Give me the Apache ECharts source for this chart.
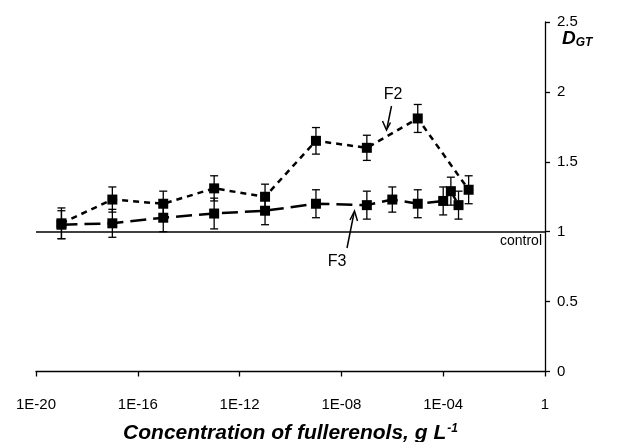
<!DOCTYPE html>
<html>
<head>
<meta charset="utf-8">
<script src="https://cdn.jsdelivr.net/npm/echarts@6/dist/echarts.min.js"></script>
<style>
html,body{margin:0;padding:0;background:#fff;overflow:hidden;}
#chart{width:630px;height:442px;}
</style>
</head>
<body>
<div id="chart"></div>
<script>
// Concentrations (g/L)
var f2Conc = [1e-19, 1e-17, 1e-15, 1e-13, 1e-11, 1e-9, 1e-7, 1e-5, 1e-3];
var f2Values = [1.06, 1.23, 1.20, 1.31, 1.25, 1.65, 1.60, 1.81, 1.30];
var f2Errors = [0.11, 0.09, 0.09, 0.09, 0.09, 0.095, 0.09, 0.10, 0.10];

var f3Conc = [1e-19, 1e-17, 1e-15, 1e-13, 1e-11, 1e-9, 1e-7, 1e-6, 1e-5, 1e-4, 2e-4, 4e-4];
var f3Values = [1.05, 1.06, 1.10, 1.13, 1.15, 1.20, 1.19, 1.23, 1.20, 1.22, 1.29, 1.19];
var f3Errors = [0.10, 0.10, 0.10, 0.11, 0.10, 0.10, 0.10, 0.09, 0.10, 0.10, 0.10, 0.10];

var xTickLabels = ['1E-20', '1E-16', '1E-12', '1E-08', '1E-04', '1'];
var xTickExponents = [-20, -16, -12, -8, -4, 0];
var yTickLabels = ['0', '0.5', '1', '1.5', '2', '2.5'];
var controlValue = 1;

var FONT = '"Liberation Sans", Arial, sans-serif';

function pairs(xs, ys) { return xs.map(function (x, i) { return [x, ys[i]]; }); }
function errData(xs, ys, es) { return xs.map(function (x, i) { return [x, ys[i] - es[i], ys[i] + es[i]]; }); }

function errRender(params, api) {
  var x = api.value(0);
  var lo = api.coord([x, api.value(1)]);
  var hi = api.coord([x, api.value(2)]);
  var w = 4;
  var st = { stroke: '#000', lineWidth: 1.3 };
  return {
    type: 'group',
    children: [
      { type: 'line', shape: { x1: lo[0], y1: lo[1], x2: hi[0], y2: hi[1] }, style: st },
      { type: 'line', shape: { x1: lo[0] - w, y1: lo[1], x2: lo[0] + w, y2: lo[1] }, style: st },
      { type: 'line', shape: { x1: hi[0] - w, y1: hi[1], x2: hi[0] + w, y2: hi[1] }, style: st }
    ]
  };
}

var chart = echarts.init(document.getElementById('chart'), null, { renderer: 'canvas', width: 630, height: 442 });

var option = {
  animation: false,
  backgroundColor: '#fff',
  grid: { left: 36, width: 509, top: 22, height: 349.5, containLabel: false, outerBoundsMode: 'none' },
  xAxis: {
    type: 'log',
    min: 1e-20,
    max: 1,
    interval: 4,
    logBase: 10,
    axisLine: { show: true, onZero: false, lineStyle: { color: '#000', width: 1.3 } },
    axisTick: { show: true, inside: false, length: 5, lineStyle: { color: '#000', width: 1.3 } },
    minorTick: { show: false },
    splitLine: { show: false },
    axisLabel: {
      margin: 26,
      color: '#000',
      fontFamily: FONT,
      fontSize: 15,
      formatter: function (v) {
        var e = Math.round(Math.log(v) / Math.LN10);
        var i = xTickExponents.indexOf(e);
        return i >= 0 ? xTickLabels[i] : '';
      }
    },
    name: 'Concentration of fullerenols, g L{s|-1}',
    nameLocation: 'middle',
    nameGap: 51,
    nameTextStyle: {
      color: '#000', fontFamily: FONT, fontSize: 21, fontWeight: 'bold', fontStyle: 'italic',
      rich: { s: { fontSize: 12, fontWeight: 'bold', fontStyle: 'italic', verticalAlign: 'top', padding: [0, 0, 10, 1], fontFamily: FONT } }
    }
  },
  yAxis: {
    type: 'value',
    position: 'right',
    min: 0,
    max: 2.5,
    interval: 0.5,
    axisLine: { show: true, lineStyle: { color: '#000', width: 1.3 } },
    axisTick: { show: true, inside: false, length: 5, lineStyle: { color: '#000', width: 1.3 } },
    splitLine: { show: false },
    axisLabel: {
      margin: 12, color: '#000', fontFamily: FONT, fontSize: 15,
      formatter: function (v) { return yTickLabels[Math.round(v / 0.5)]; }
    }
  },
  series: [
    {
      type: 'custom', name: 'F2 err', renderItem: errRender, data: errData(f2Conc, f2Values, f2Errors), z: 1, silent: true
    },
    {
      type: 'custom', name: 'F3 err', renderItem: errRender, data: errData(f3Conc, f3Values, f3Errors), z: 1, silent: true
    },
    {
      type: 'line', name: 'F2', data: pairs(f2Conc, f2Values), z: 3,
      symbol: 'rect', symbolSize: 10, showAllSymbol: true,
      itemStyle: { color: '#000' },
      lineStyle: { color: '#000', width: 2.5, type: [6, 5] },
      markLine: {
        silent: true, symbol: 'none', animation: false,
        lineStyle: { color: '#000', width: 1.5, type: 'solid' },
        label: { show: true, position: 'insideEndBottom', formatter: 'control', color: '#000', fontFamily: FONT, fontSize: 14, distance: [3, 2] },
        data: [{ yAxis: controlValue }]
      }
    },
    {
      type: 'line', name: 'F3', data: pairs(f3Conc, f3Values), z: 2,
      symbol: 'rect', symbolSize: 10, showAllSymbol: true,
      itemStyle: { color: '#000' },
      lineStyle: { color: '#000', width: 2.5, type: [16, 7] }
    }
  ],
  graphic: [
    {
      type: 'text', left: 562, top: 29,
      style: { text: '{d|D}{s|GT}', rich: {
        d: { fontFamily: FONT, fontSize: 19, fontWeight: 'bold', fontStyle: 'italic', fill: '#000' },
        s: { fontFamily: FONT, fontSize: 12, fontWeight: 'bold', fontStyle: 'italic', fill: '#000', verticalAlign: 'bottom', padding: [8, 0, 0, 0] }
      } }
    },
    { type: 'text', x: 393, y: 95, style: { text: 'F2', fontFamily: FONT, fontSize: 16, fill: '#000', align: 'center', verticalAlign: 'middle' } },
    { type: 'text', x: 337, y: 262, style: { text: 'F3', fontFamily: FONT, fontSize: 16, fill: '#000', align: 'center', verticalAlign: 'middle' } },
    { type: 'line', shape: { x1: 391.5, y1: 106, x2: 387, y2: 128 }, style: { stroke: '#000', lineWidth: 1.5 } },
    { type: 'polyline', shape: { points: [[382.5, 121], [386.5, 130], [390.5, 122.5]] }, style: { stroke: '#000', lineWidth: 1.5, fill: null } },
    { type: 'line', shape: { x1: 347, y1: 248, x2: 354, y2: 213 }, style: { stroke: '#000', lineWidth: 1.5 } },
    { type: 'polyline', shape: { points: [[350, 220], [354.5, 211], [357.5, 221]] }, style: { stroke: '#000', lineWidth: 1.5, fill: null } }
  ]
};
chart.setOption(option);
</script>
</body>
</html>
